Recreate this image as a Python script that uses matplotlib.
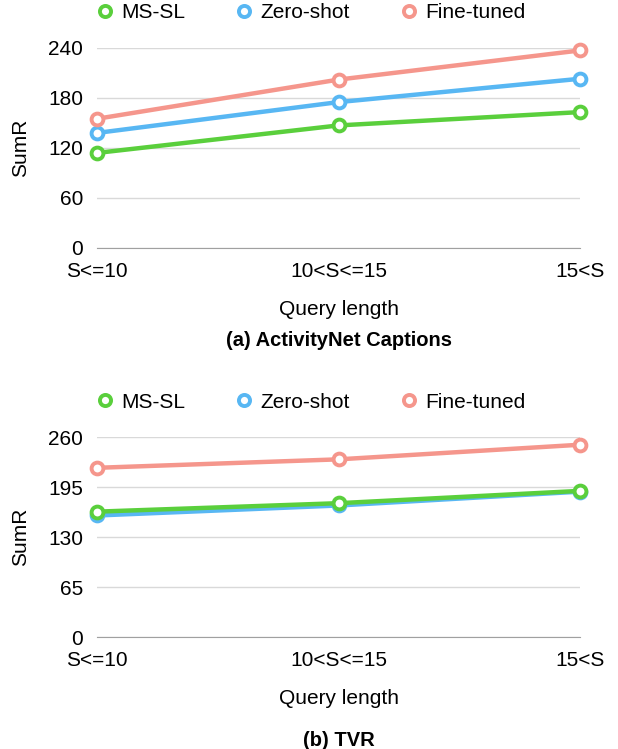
import matplotlib.pyplot as plt
from matplotlib.lines import Line2D

plt.rcParams['font.family'] = ['Liberation Sans', 'DejaVu Sans']

categories = ["S<=10", "10<S<=15", "15<S"]
series_names = ["MS-SL", "Zero-shot", "Fine-tuned"]
colors = ["#5ACF3C", "#58B7F3", "#F5968C"]

# (a) ActivityNet Captions
anet_mssl = [114, 147, 163]
anet_zero = [138, 175, 203]
anet_fine = [155, 202, 237]
anet_ticks = [0, 60, 120, 180, 240]

# (b) TVR
tvr_mssl = [163, 174, 190]
tvr_zero = [158, 171, 189]
tvr_fine = [220, 231, 250]
tvr_ticks = [0, 65, 130, 195, 260]

fig = plt.figure(figsize=(6.18, 7.49), dpi=100)


def draw_panel(rect, values, ticks, subtitle, sub_y, legend_y, order):
    ax = fig.add_axes(rect)
    x = range(len(categories))
    for i in order:
        ax.plot(x, values[i], color=colors[i], lw=3.2, marker="o", ms=8.5,
                mfc="white", mec=colors[i], mew=2.8, clip_on=False, zorder=3)
    ax.set_ylim(ticks[0], ticks[-1])
    ax.set_xlim(0, len(categories) - 1)
    ax.set_yticks(ticks)
    ax.set_xticks(list(x))
    ax.set_xticklabels(categories)
    ax.tick_params(length=0, labelsize=15, colors="black")
    ax.tick_params(axis="y", pad=10)
    ax.tick_params(axis="x", pad=10)
    ax.grid(axis="y", color="#d9d9d9", lw=1)
    ax.set_axisbelow(True)
    for s in ["top", "right", "left"]:
        ax.spines[s].set_visible(False)
    ax.spines["bottom"].set_color("#a0a0a0")
    ax.set_ylabel("SumR", fontsize=15, labelpad=13)
    ax.set_xlabel("Query length", fontsize=15, labelpad=14)
    handles = [Line2D([], [], ls="none", marker="o", ms=8, mfc="white",
                      mec=c, mew=2.8) for c in colors]
    fig.legend(handles, series_names, loc="center", ncol=3, frameon=False,
               fontsize=15, bbox_to_anchor=(0.5, legend_y), handletextpad=0.2,
               columnspacing=2.22, handlelength=1.2)
    fig.text(339 / 618, sub_y, subtitle, ha="center", va="center",
             fontsize=14.5, fontweight="bold")
    return ax


draw_panel([0.157, 0.669, 0.7815, 0.267],
           [anet_mssl, anet_zero, anet_fine], anet_ticks,
           "(a) ActivityNet Captions", 1 - 341 / 749, 1 - 13 / 749, [0, 1, 2])
draw_panel([0.157, 0.1495, 0.7815, 0.267],
           [tvr_mssl, tvr_zero, tvr_fine], tvr_ticks,
           "(b) TVR", 1 - 740 / 749, 1 - 402 / 749, [1, 0, 2])

fig.savefig("out.png", dpi=100)
